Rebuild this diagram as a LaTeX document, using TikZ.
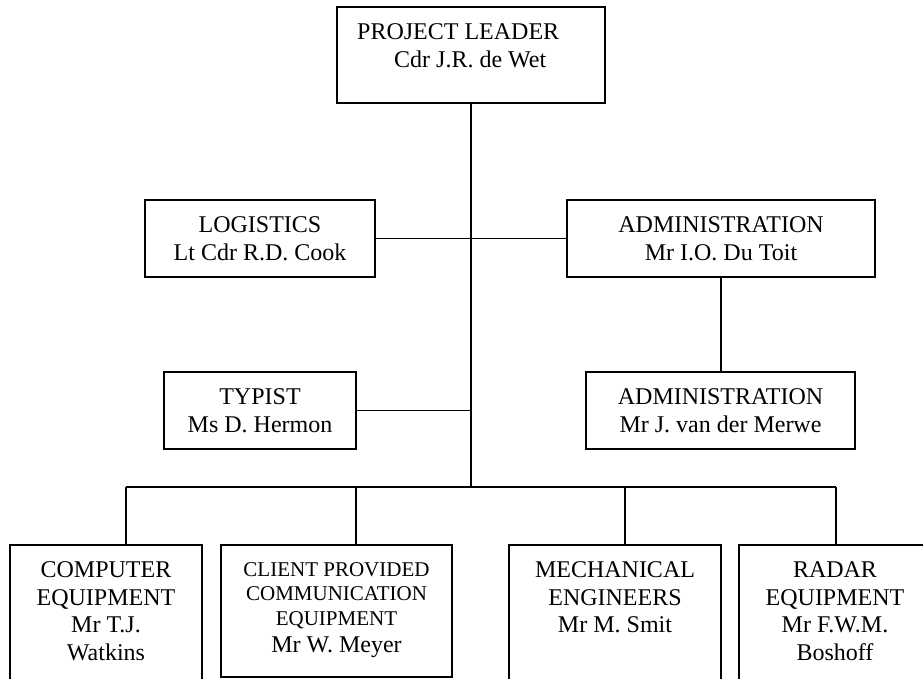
\documentclass[tikz,border=0pt]{standalone}
\usepackage{fontspec}
\setmainfont{Liberation Serif}
\tikzset{
  boxst/.style={draw, line width=1.9pt, inner sep=0pt, rectangle},
  txt/.style={font=\fontsize{24}{27.5}\selectfont, align=center, inner sep=0pt},
  smalltxt/.style={font=\fontsize{21}{24.5}\selectfont, align=center, inner sep=0pt},
  link/.style={line width=1.6pt},
}
\begin{document}
\begin{tikzpicture}[x=1pt,y=-1pt]
\clip (0,0) rectangle (923,679);
% top
\node[boxst, minimum width=268pt, minimum height=96pt] (leader) at (471,55) {};
\node[txt, anchor=base west] (leadT1) at (357,40) {PROJECT LEADER};
\node[txt, anchor=base west] (leadT2) at (394,68) {Cdr J.R. de Wet};
% middle
\node[boxst, txt, minimum width=230pt, minimum height=77pt] (log) at (260,238.5) {LOGISTICS\\Lt Cdr R.D. Cook};
\node[boxst, txt, minimum width=308pt, minimum height=77pt] (adm1) at (721,238.5) {ADMINISTRATION\\Mr I.O. Du Toit};
\node[boxst, txt, minimum width=192pt, minimum height=77pt] (typ) at (260,410.5) {TYPIST\\Ms D. Hermon};
\node[boxst, txt, minimum width=269pt, minimum height=77pt] (adm2) at (720.5,410.5) {ADMINISTRATION\\Mr J. van der Merwe};
% bottom boxes
\node[boxst, minimum width=192pt, minimum height=175pt] (comp) at (106,632.5) {};
\node[boxst, minimum width=231pt, minimum height=132pt] (cli) at (336.5,611) {};
\node[boxst, minimum width=212pt, minimum height=175pt] (mech) at (615,632.5) {};
\node[boxst, minimum width=192pt, minimum height=175pt] (rad) at (835,632.5) {};
\node[txt, anchor=north] (compT) at (106,561.5) {COMPUTER\\EQUIPMENT\\Mr T.J.\\Watkins};
\node[smalltxt, anchor=north] (cliT) at (336.5,562) {CLIENT PROVIDED\\COMMUNICATION\\EQUIPMENT};
\node[txt, anchor=base] (cliT2) at (336.5,652) {Mr W. Meyer};
\node[txt, anchor=north] (mechT) at (615,561.5) {MECHANICAL\\ENGINEERS\\Mr M. Smit};
\node[txt, anchor=north] (radT) at (835,561.5) {RADAR\\EQUIPMENT\\Mr F.W.M.\\Boshoff};
% connectors
\coordinate (bm) at (471,487);
\coordinate (bl) at (125.7,487);
\coordinate (br) at (836,487);
\coordinate (d2) at (356,487);
\coordinate (d3) at (625,487);
\draw[link] (leader.south) -- (bm);
\draw[link] (log.east) -- (adm1.west);
\draw[link] (adm1.south) -- (adm1.south |- adm2.north);
\draw[link] (typ.east) -- (typ.east -| bm);
\draw[link] (bl) -- (br);
\draw[link] (bl) -- (bl |- comp.north);
\draw[link] (d2) -- (d2 |- cli.north);
\draw[link] (d3) -- (d3 |- mech.north);
\draw[link] (br) -- (br |- rad.north);
\end{tikzpicture}
\end{document}
